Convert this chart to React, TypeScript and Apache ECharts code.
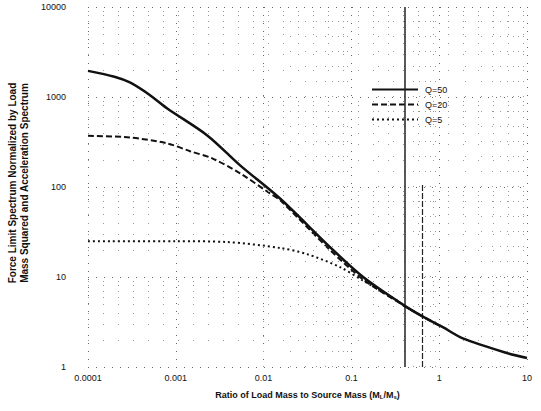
import React, { useEffect, useRef } from "react";
import * as echarts from "echarts";

const xTickLabels = ["0.0001", "0.001", "0.01", "0.1", "1", "10"];
const yTickLabels = ["1", "10", "100", "1000", "10000"];

const q50Ratio = [0.0001, 0.0002, 0.0003, 0.0005, 0.0008, 0.0023, 0.0054, 0.0155, 0.057, 0.136, 0.39, 0.66, 1.1, 1.86, 5.9, 10];
const q50Value = [1950, 1680, 1450, 1060, 745, 372, 174, 74, 21.5, 10, 4.9, 3.6, 2.77, 2.08, 1.43, 1.26];

const q20Ratio = [0.0001, 0.0003, 0.0008, 0.00145, 0.0026, 0.0054, 0.0118, 0.0155, 0.057, 0.136, 0.39, 0.66, 1.1];
const q20Value = [370, 355, 305, 250, 208, 142, 85, 71, 20, 9.4, 4.85, 3.6, 2.77];

const q5Ratio = [0.0001, 0.001, 0.0037, 0.0155, 0.031, 0.074, 0.136, 0.33, 0.39, 0.66, 1.1];
const q5Value = [25, 25, 24.5, 21, 18, 12.9, 9.1, 5.5, 4.85, 3.6, 2.77];

const seriesNames = ["Q=50", "Q=20", "Q=5"];
const minorMultipliers = [2, 3, 4, 5, 6, 7, 8, 9];

const zip = (xs: number[], ys: number[]) => xs.map((x, i) => [x, ys[i]]);

export default function App() {
  const ref = useRef<HTMLDivElement>(null);
  useEffect(() => {
    if (!ref.current) return;
    const chart = echarts.init(ref.current, undefined, { renderer: "svg" });
    const font = "Liberation Sans";
    const minorX: any[] = [];
    for (let d = -4; d < 1; d++) {
      minorMultipliers.forEach((m) => minorX.push({ xAxis: m * Math.pow(10, d) }));
    }
    const minorY: any[] = [];
    for (let d = 0; d < 4; d++) {
      minorMultipliers.forEach((m) => minorY.push({ yAxis: m * Math.pow(10, d) }));
    }
    chart.setOption({
      animation: false,
      backgroundColor: "#fff",
      grid: { left: 88, right: 14, top: 7, bottom: 44 },
      legend: {
        orient: "vertical",
        left: 366,
        top: 80,
        itemWidth: 46,
        itemHeight: 10,
        itemGap: 6,
        data: seriesNames,
        itemStyle: { opacity: 0 },
        textStyle: { fontFamily: font, fontSize: 9, color: "#111", padding: [0, 0, 0, 2] },
      },
      xAxis: {
        type: "log",
        min: 0.0001,
        max: 10,
        logBase: 10,
        axisLine: { show: false },
        axisTick: { show: false },
        axisLabel: {
          margin: 6,
          fontFamily: font,
          fontSize: 9,
          color: "#111",
          formatter: (v: number) => xTickLabels[Math.round(Math.log10(v)) + 4] ?? "",
        },
        splitLine: { show: true, lineStyle: { color: "#666", type: [1, 7], width: 1 } },
        name: "Ratio of Load Mass to Source Mass (M{sub|L}/M{sub|s})",
        nameLocation: "middle",
        nameGap: 22,
        nameTextStyle: {
          fontFamily: font,
          fontSize: 9,
          fontWeight: "bold",
          color: "#111",
          rich: {
            sub: { fontFamily: font, fontSize: 6, fontWeight: "bold", color: "#111", padding: [5, 0, 0, 0] },
          },
        },
      },
      yAxis: {
        type: "log",
        min: 1,
        max: 10000,
        logBase: 10,
        axisLine: { show: false },
        axisTick: { show: false },
        axisLabel: {
          margin: 22,
          fontFamily: font,
          fontSize: 9,
          color: "#111",
          formatter: (v: number) => yTickLabels[Math.round(Math.log10(v))] ?? "",
        },
        splitLine: { show: true, lineStyle: { color: "#666", type: [1, 7], width: 1 } },
      },
      graphic: [
        {
          type: "text",
          x: 18,
          y: 183,
          rotation: Math.PI / 2,
          style: {
            text: "Force Limit Spectrum Normalized by Load\nMass Squared and Acceleration Spectrum",
            fontFamily: font,
            fontSize: 10,
            fontWeight: "bold",
            fill: "#111",
            align: "center",
            verticalAlign: "middle",
            lineHeight: 12,
          },
        },
      ],
      series: [
        {
          name: "__grid",
          type: "line",
          data: [],
          silent: true,
          markLine: {
            silent: true,
            symbol: "none",
            label: { show: false },
            lineStyle: { color: "#999", type: [1, 14], width: 1 },
            data: [...minorX, ...minorY],
          },
        },
        {
          name: "__artifact",
          type: "line",
          data: [],
          silent: true,
          markLine: {
            silent: true,
            symbol: "none",
            label: { show: false },
            lineStyle: { color: "#222", type: "solid", width: 1.5 },
            data: [
              [{ coord: [0.4, 1] }, { coord: [0.4, 10000] }],
              [{ coord: [0.64, 1] }, { coord: [0.64, 110], lineStyle: { type: [6, 2], width: 1.2 } }],
            ],
          },
        },
        {
          name: "Q=5",
          type: "line",
          data: zip(q5Ratio, q5Value),
          symbol: "none",
          smooth: 0.3,
          lineStyle: { color: "#111", width: 2, type: [2, 3] },
          itemStyle: { color: "#111" },
          z: 3,
        },
        {
          name: "Q=20",
          type: "line",
          data: zip(q20Ratio, q20Value),
          symbol: "none",
          smooth: 0.3,
          lineStyle: { color: "#111", width: 2, type: [6, 3] },
          itemStyle: { color: "#111" },
          z: 4,
        },
        {
          name: "Q=50",
          type: "line",
          data: zip(q50Ratio, q50Value),
          symbol: "none",
          smooth: 0.3,
          lineStyle: { color: "#111", width: 2.5, type: "solid" },
          itemStyle: { color: "#111" },
          z: 5,
        },
      ],
    });
    return () => chart.dispose();
  }, []);
  return <div ref={ref} style={{ width: 541, height: 411, position: "absolute", left: 0, top: 0 }} />;
}
